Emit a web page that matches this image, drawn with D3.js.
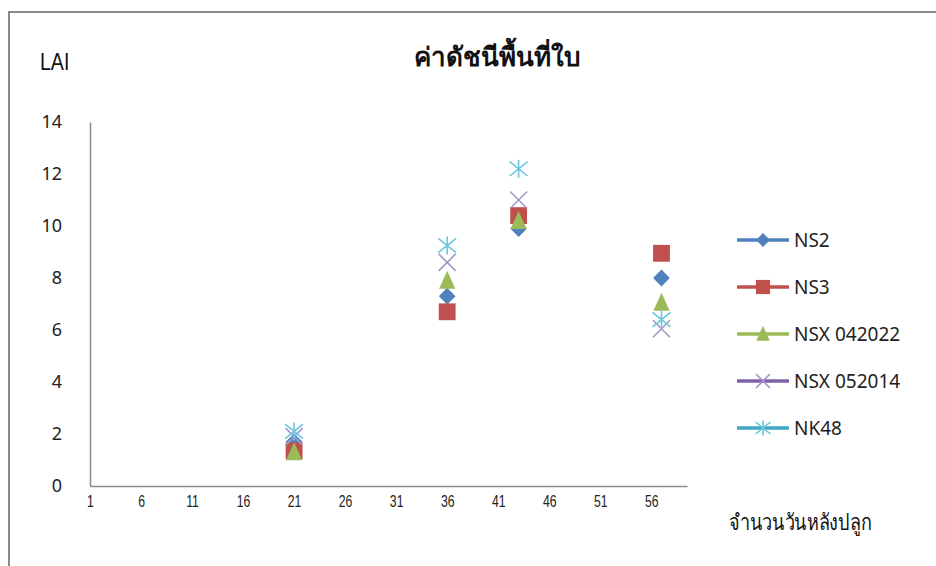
<!DOCTYPE html>
<html>
<head>
<meta charset="utf-8">
<script src="https://cdn.jsdelivr.net/npm/d3@7"></script>
<style>
  body { margin: 0; background: #fff; }
  svg { display: block; }
</style>
</head>
<body>
<div id="chart"><svg width="936" height="566"></svg></div>
<script>
// data
const days = [21, 36, 43, 57];
const seriesNames = ["NS2", "NS3", "NSX 042022", "NSX 052014", "NK48"];
const ns2 = [1.7, 7.3, 9.9, 8.0];
const ns3 = [1.35, 6.7, 10.4, 8.95];
const nsx042022 = [1.3, 7.9, 10.2, 7.05];
const nsx052014 = [1.9, 8.6, 11.0, 6.05];
const nk48 = [2.1, 9.25, 12.2, 6.4];
const xTicks = [1, 6, 11, 16, 21, 26, 31, 36, 41, 46, 51, 56];
const yTicks = [0, 2, 4, 6, 8, 10, 12, 14];

const series = [
  { name: seriesNames[0], values: ns2, color: "#4F81BD", line: "#4F81BD", shape: "diamond" },
  { name: seriesNames[1], values: ns3, color: "#C0504D", line: "#C0504D", shape: "square" },
  { name: seriesNames[2], values: nsx042022, color: "#9BBB59", line: "#9BBB59", shape: "triangle" },
  { name: seriesNames[3], values: nsx052014, color: "#A794CC", line: "#7F63A8", shape: "x" },
  { name: seriesNames[4], values: nk48, color: "#6CC6DD", line: "#3FA9C4", shape: "star" }
];

const svg = d3.select("#chart svg");

// outer frame (top and left edges are visible)
svg.append("path")
  .attr("d", "M9,566 V12 H936")
  .attr("fill", "none")
  .attr("stroke", "#8a8a8a")
  .attr("stroke-width", 2);

const x = d3.scaleLinear().domain([1, 59.5]).range([90, 687]);
const y = d3.scaleLinear().domain([0, 14]).range([486, 122]);

// axes
svg.append("g")
  .attr("transform", "translate(90,0)")
  .call(d3.axisLeft(y).tickValues(yTicks).tickSize(0).tickPadding(28))
  .call(g => g.select(".domain").attr("stroke", "#8c8c8c").attr("stroke-width", 1.5))
  .selectAll("text")
  .style("font-family", "Noto Sans, sans-serif")
  .style("font-size", "18px")
  .attr("fill", "#222");

svg.append("g")
  .attr("transform", "translate(0,486)")
  .call(d3.axisBottom(x).tickValues(xTicks).tickSize(0).tickPadding(9).tickFormat(d3.format("d")))
  .call(g => g.select(".domain").attr("stroke", "#8c8c8c").attr("stroke-width", 1.5))
  .selectAll("text")
  .attr("transform", "scale(0.72,1)")
  .style("font-family", "Liberation Sans, sans-serif")
  .style("font-size", "17px")
  .attr("fill", "#222");

// marker shapes
function markerPath(shape, s) {
  if (shape === "diamond") return d3.symbol(d3.symbolDiamond2, s * s * 0.62)();
  if (shape === "square") return d3.symbol(d3.symbolSquare2, s * s)();
  if (shape === "triangle") {
    const h = s;
    return `M0,${-h * 0.55} L${s * 0.45},${h * 0.45} L${-s * 0.45},${h * 0.45} Z`;
  }
  const r = s / 2;
  if (shape === "x") return `M${-r},${-r} L${r},${r} M${-r},${r} L${r},${-r}`;
  // star: x plus vertical bar
  return `M${-r},${-r * 0.8} L${r},${r * 0.8} M${-r},${r * 0.8} L${r},${-r * 0.8} M0,${-r} V${r}`;
}

function drawMarker(g, d, size) {
  const filled = d.shape === "diamond" || d.shape === "square" || d.shape === "triangle";
  g.append("path")
    .attr("d", markerPath(d.shape, size))
    .attr("fill", filled ? d.color : "none")
    .attr("stroke", d.color)
    .attr("stroke-width", filled ? 0 : 1.6);
}

const sizes = { diamond: 17, square: 19, triangle: 18, x: 17, star: 18 };

series.forEach(s => {
  s.values.forEach((v, i) => {
    const g = svg.append("g").attr("transform", `translate(${x(days[i])},${y(v)})`);
    drawMarker(g, s, sizes[s.shape]);
  });
});

// legend
const legend = svg.append("g");
series.forEach((s, i) => {
  const ly = 240 + i * 47;
  const g = legend.append("g").attr("transform", `translate(0,${ly})`);
  g.append("line")
    .attr("x1", 737).attr("x2", 789)
    .attr("stroke", s.line).attr("stroke-width", 3.5);
  const m = g.append("g").attr("transform", "translate(763,0)");
  drawMarker(m, s, sizes[s.shape] - 3);
  g.append("text")
    .attr("x", 794).attr("y", 7)
    .style("font-family", "Noto Sans, sans-serif")
    .style("font-size", "19px")
    .attr("fill", "#222")
    .text(s.name);
});

// titles
svg.append("text")
  .attr("x", 497).attr("y", 66)
  .attr("text-anchor", "middle")
  .style("font-family", "sans-serif")
  .style("font-weight", "bold")
  .style("font-size", "26px")
  .attr("fill", "#111")
  .text("ค่าดัชนีพื้นที่ใบ");

svg.append("text")
  .attr("transform", "translate(40,70) scale(0.85,1)")
  .style("font-family", "Liberation Sans, sans-serif")
  .style("font-size", "23px")
  .attr("fill", "#111")
  .text("LAI");

svg.append("text")
  .attr("transform", "translate(729,530) scale(0.82,1)")
  .style("font-family", "sans-serif")
  .style("font-size", "22px")
  .attr("fill", "#111")
  .text("จำนวนวันหลังปลูก");
</script>
</body>
</html>
